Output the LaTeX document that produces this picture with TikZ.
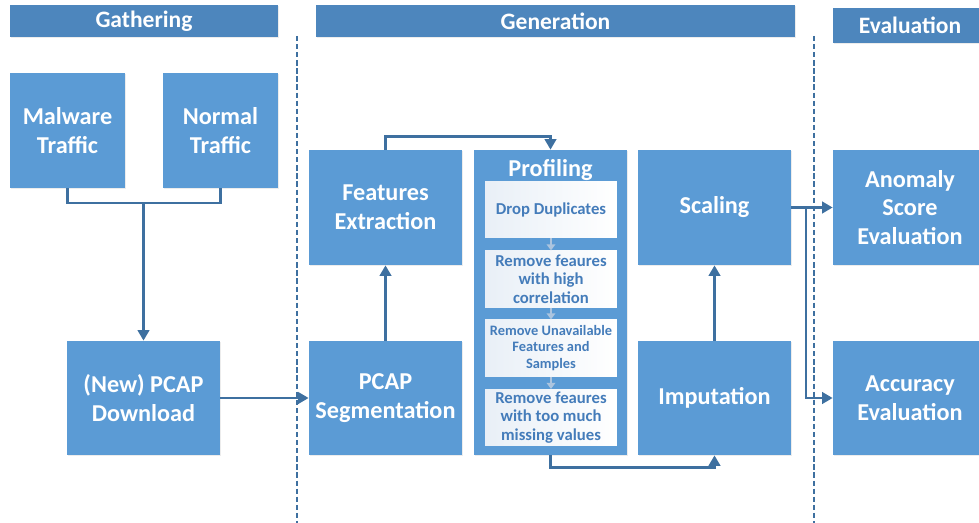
\documentclass[tikz,border=0pt]{standalone}
\usepackage{fontspec}
\setmainfont{Carlito}
\usetikzlibrary{arrows.meta,shadows}

\definecolor{boxblue}{RGB}{91,155,213}
\definecolor{headblue}{RGB}{77,134,189}
\definecolor{lineblue}{RGB}{62,112,160}
\definecolor{stepblue}{RGB}{68,124,186}
\definecolor{stepgray}{RGB}{172,196,222}

\begin{document}
\begin{tikzpicture}[x=0.02cm, y=-0.02cm,
    box/.style={fill=boxblue, text=white, inner sep=0pt, align=center,
      font=\bfseries\fontsize{13.8}{16.4}\selectfont,
      minimum width=3.06cm, minimum height=2.3cm,
      drop shadow={opacity=0.15, shadow xshift=0.6pt, shadow yshift=-0.6pt}},
    head/.style={fill=headblue, text=white, inner sep=0pt,
      font=\bfseries\fontsize{13.4}{15}\selectfont, minimum height=0.64cm,
      drop shadow={opacity=0.15, shadow xshift=0.6pt, shadow yshift=-0.6pt}},
    substep/.style={left color=stepblue!12, right color=white, text=stepblue,
      inner sep=0pt, align=center, minimum width=2.64cm, minimum height=1.13cm,
      font=\bfseries\fontsize{9.5}{10.6}\selectfont},
    link/.style={lineblue, line width=1.5pt},
    ->/.style={link, -{Triangle[length=6pt, width=6.5pt]}},
    sub->/.style={stepgray, line width=1.4pt, -{Triangle[length=3.5pt, width=5pt]}},
    phase/.style={lineblue, line width=0.7pt, dash pattern=on 3pt off 1.6pt}]
    \useasboundingbox (0,0) rectangle (979,523);

    % phase headers
    \node[head, minimum width=5.36cm] at (144,21) (hgather) {Gathering};
    \node[head, minimum width=9.58cm] at (555.5,21) (hgen) {Generation};
    \node[head, minimum width=3.08cm, minimum height=0.7cm] at (910,25.5) (heval) {Evaluation};

    % phase separators
    \coordinate (sep1top) at (297,36);
    \coordinate (sep1bot) at (297,523);
    \coordinate (sep2top) at (814,36);
    \coordinate (sep2bot) at (814,523);
    \draw[phase] (sep1top) -- (sep1bot);
    \draw[phase] (sep2top) -- (sep2bot);

    % gathering
    \node[box, minimum width=2.3cm] at (67.5,130.5) (malware) {Malware\\Traffic};
    \node[box, minimum width=2.3cm] at (220.5,130.5) (normal) {Normal\\Traffic};
    \node[box, minimum height=2.28cm] at (143.5,398) (download) {(New) PCAP\\Download};

    % generation
    \node[box] at (385.5,207.5) (features) {Features\\Extraction};
    \node[box, minimum height=2.28cm] at (385.5,398) (segment) {PCAP\\Segmentation};
    \node[box, minimum height=6.1cm] at (550.5,302.5) (profiling) {};
    \node[text=white, font=\bfseries\fontsize{13.8}{16.4}\selectfont] at (550.5,170) (proftitle) {Profiling};
    \node[substep] at (551,209.5) (drop) {Drop Duplicates};
    \node[substep] at (551,279) (corr) {Remove feaures\\with high\\correlation};
    \node[substep, font=\bfseries\fontsize{8.2}{9.4}\selectfont] at (551,348) (unavail) {Remove Unavailable\\Features and\\Samples};
    \node[substep] at (551,417.5) (missing) {Remove feaures\\with too much\\missing values};
    \node[box] at (714.5,207.5) (scaling) {Scaling};
    \node[box, minimum height=2.28cm] at (714.5,398) (imputation) {Imputation};

    % evaluation
    \node[box, minimum width=3.08cm] at (910,207.5) (anomaly) {Anomaly\\Score\\Evaluation};
    \node[box, minimum width=3.08cm, minimum height=2.28cm] at (910,398) (accuracy) {Accuracy\\Evaluation};

    % connectors
    \coordinate (merge) at (143.5,203);
    \draw[link] (malware.south) |- (merge) -| (normal.south);
    \draw[->] (merge) -- (download.north);
    \draw[->] (download.east) -- (segment.west);
    \draw[->] (segment.north) -- (features.south);
    \draw[->] (features.north) -- ++(0,-13) -| (profiling.north);
    \draw[sub->] (drop.south) -- (corr.north);
    \draw[sub->] (corr.south) -- (unavail.north);
    \draw[sub->] (unavail.south) -- (missing.north);
    \draw[->] (profiling.south) -- ++(0,12) -| (imputation.south);
    \draw[->] (imputation.north) -- (scaling.south);
    \coordinate (split) at (806,207.5);
    \draw[->] (scaling.east) -- (anomaly.west);
    \draw[->] (split) |- (accuracy.west);
\end{tikzpicture}
\end{document}
